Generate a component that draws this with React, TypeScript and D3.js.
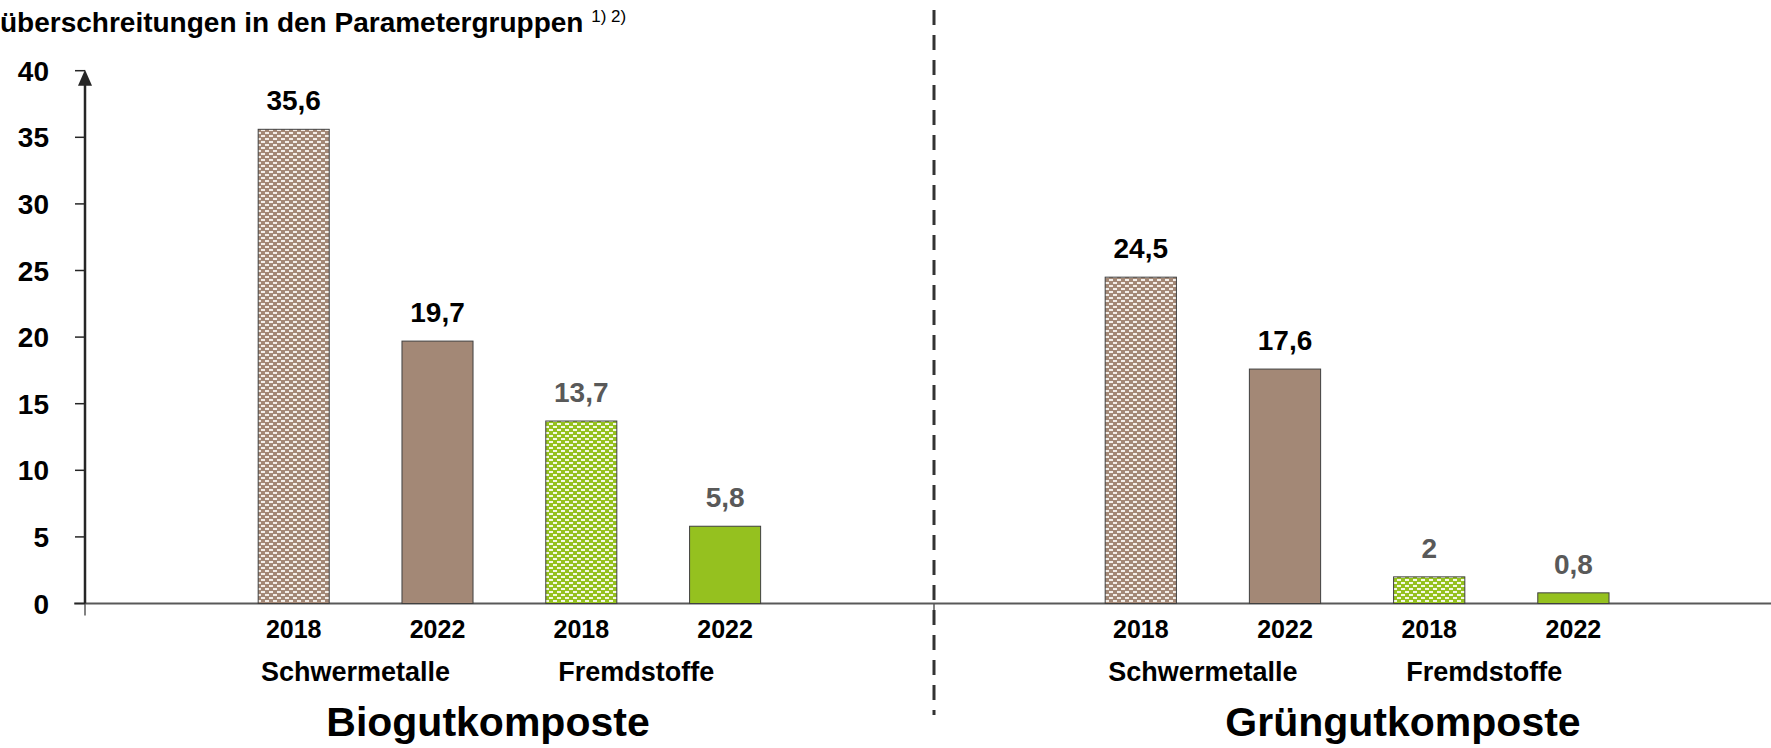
import React, { useEffect, useRef } from "react";
import { select, scaleLinear, scaleBand } from "d3";

const width = 1771;
const height = 748;
const font = "'Liberation Sans', Arial, sans-serif";

// data
const panels = ["Biogutkomposte", "Grüngutkomposte"];
const paramGroups = ["Schwermetalle", "Fremdstoffe"];
const years = ["2018", "2022"];
const bioValues = [35.6, 19.7, 13.7, 5.8];
const gruenValues = [24.5, 17.6, 2, 0.8];
const yTicks = [0, 5, 10, 15, 20, 25, 30, 35, 40];

const brown = "#a38876";
const green = "#95c11f";

const App = () => {
  const ref = useRef<SVGSVGElement>(null);

  useEffect(() => {
    const svg = select(ref.current);
    svg.selectAll("*").remove();

    const y = scaleLinear().domain([0, 40]).range([603.5, 70.7]);
    const axisX = 85;
    const dividerX = 934;

    // patterns for 2018 bars
    const defs = svg.append("defs");
    [
      { id: "patBrown", c: brown, w: "#f3eee9" },
      { id: "patGreen", c: green, w: "#f4f9e6" },
    ].forEach((p) => {
      const pat = defs
        .append("pattern")
        .attr("id", p.id)
        .attr("patternUnits", "userSpaceOnUse")
        .attr("width", 8)
        .attr("height", 6);
      pat.append("rect").attr("width", 8).attr("height", 6).attr("fill", p.c);
      [
        [1, 0, 4],
        [5, 3, 3],
        [0, 3, 1],
      ].forEach(([rx, ry, rw]) =>
        pat
          .append("rect")
          .attr("x", rx)
          .attr("y", ry)
          .attr("width", rw)
          .attr("height", 2)
          .attr("fill", p.w)
      );
    });

    // title (first line cut off in the original)
    const title = svg
      .append("text")
      .attr("x", 0)
      .attr("y", 32)
      .attr("font-family", font)
      .attr("font-size", 28)
      .attr("font-weight", "bold")
      .attr("fill", "#000");
    title.append("tspan").text("überschreitungen in den Parametergruppen ");
    title
      .append("tspan")
      .attr("font-weight", "normal")
      .attr("font-size", 17)
      .attr("dy", -10)
      .text("1) 2)");

    // x axis line
    svg
      .append("line")
      .attr("x1", 74)
      .attr("x2", width)
      .attr("y1", y(0))
      .attr("y2", y(0))
      .attr("stroke", "#595959")
      .attr("stroke-width", 2);
    [axisX, dividerX].forEach((tx) =>
      svg
        .append("line")
        .attr("x1", tx)
        .attr("x2", tx)
        .attr("y1", y(0))
        .attr("y2", y(0) + 12)
        .attr("stroke", "#595959")
        .attr("stroke-width", 1.5)
    );

    // y axis
    svg
      .append("line")
      .attr("x1", axisX)
      .attr("x2", axisX)
      .attr("y1", y(0))
      .attr("y2", y(40) + 10)
      .attr("stroke", "#262626")
      .attr("stroke-width", 2.5);
    svg
      .append("path")
      .attr("d", `M${axisX - 7},${y(40) + 15}L${axisX},${y(40) - 1}L${axisX + 7},${y(40) + 15}Z`)
      .attr("fill", "#262626");
    const yAxis = svg.append("g");
    yTicks.forEach((t) => {
      yAxis
        .append("line")
        .attr("x1", axisX - 10)
        .attr("x2", axisX)
        .attr("y1", y(t))
        .attr("y2", y(t))
        .attr("stroke", "#262626")
        .attr("stroke-width", 1.5);
      yAxis
        .append("text")
        .attr("x", 49)
        .attr("y", y(t))
        .attr("dy", "0.36em")
        .attr("text-anchor", "end")
        .attr("font-family", font)
        .attr("font-size", 28)
        .attr("font-weight", "bold")
        .text(t);
    });

    // divider
    svg
      .append("line")
      .attr("x1", dividerX)
      .attr("x2", dividerX)
      .attr("y1", 10)
      .attr("y2", 715)
      .attr("stroke", "#333")
      .attr("stroke-width", 3)
      .attr("stroke-dasharray", "15,10");

    const categories = paramGroups.flatMap((g) => years.map((yr) => `${g} ${yr}`));
    const panelData = [bioValues, gruenValues];
    const ranges: [number, number][] = [
      [221.8, 797],
      [1068.7, 1645.5],
    ];
    const titleX = [488, 1403];
    const groupShift = [-10, -17];

    panels.forEach((panel, pi) => {
      const x = scaleBand()
        .domain(categories)
        .range(ranges[pi])
        .paddingInner(0.506)
        .paddingOuter(0.253);
      const g = svg.append("g");
      const vals = panelData[pi];

      categories.forEach((cat, i) => {
        const v = vals[i];
        const isGreen = i >= 2;
        const is2018 = i % 2 === 0;
        const fill = is2018
          ? `url(#${isGreen ? "patGreen" : "patBrown"})`
          : isGreen
          ? green
          : brown;
        g.append("rect")
          .attr("x", x(cat)!)
          .attr("y", y(v))
          .attr("width", x.bandwidth())
          .attr("height", y(0) - y(v))
          .attr("fill", fill)
          .attr("stroke", "#404040")
          .attr("stroke-width", 1);
        g.append("text")
          .attr("x", x(cat)! + x.bandwidth() / 2)
          .attr("y", y(v) - 19)
          .attr("text-anchor", "middle")
          .attr("font-family", font)
          .attr("font-size", 28)
          .attr("font-weight", "bold")
          .attr("fill", isGreen ? "#595959" : "#000")
          .text(String(v).replace(".", ","));
        g.append("text")
          .attr("x", x(cat)! + x.bandwidth() / 2)
          .attr("y", 638)
          .attr("text-anchor", "middle")
          .attr("font-family", font)
          .attr("font-size", 25)
          .attr("font-weight", "bold")
          .text(years[i % 2]);
      });

      paramGroups.forEach((pg, gi) => {
        const c0 = x(`${pg} ${years[0]}`)! + x.bandwidth() / 2;
        const c1 = x(`${pg} ${years[1]}`)! + x.bandwidth() / 2;
        g.append("text")
          .attr("x", (c0 + c1) / 2 + groupShift[gi])
          .attr("y", 681)
          .attr("text-anchor", "middle")
          .attr("font-family", font)
          .attr("font-size", 27)
          .attr("font-weight", "bold")
          .text(pg);
      });

      g.append("text")
        .attr("x", titleX[pi])
        .attr("y", 736)
        .attr("text-anchor", "middle")
        .attr("font-family", font)
        .attr("font-size", 41)
        .attr("font-weight", "bold")
        .text(panel);
    });
  }, []);

  return (
    <svg
      ref={ref}
      width={width}
      height={height}
      style={{ position: "absolute", left: 0, top: 0, background: "#fff" }}
    />
  );
};

export default App;
